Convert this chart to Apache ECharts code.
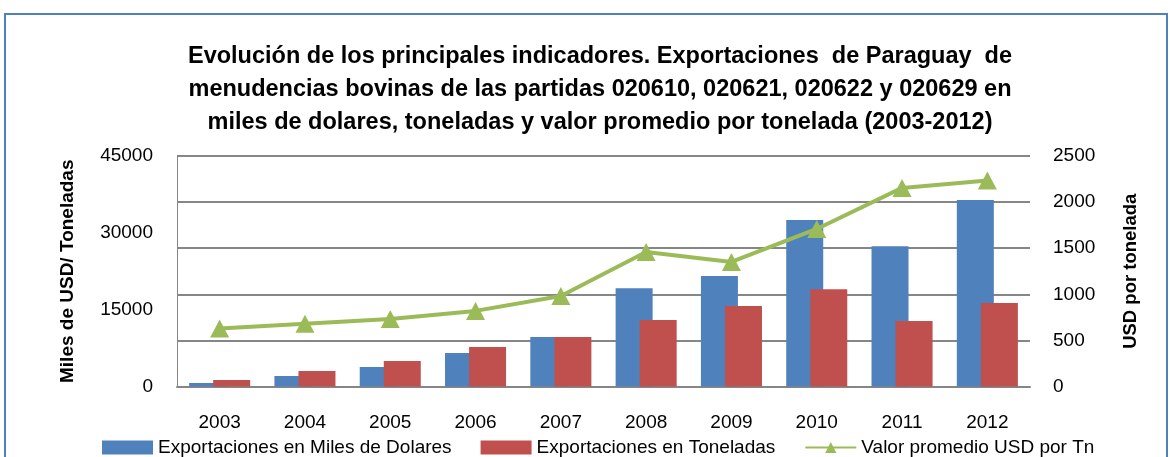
<!DOCTYPE html>
<html>
<head>
<meta charset="utf-8">
<script src="https://cdn.jsdelivr.net/npm/echarts@6/dist/echarts.min.js"></script>
<style>
  html, body { margin: 0; padding: 0; background: #fff; }
  #frame { position: absolute; left: 4px; top: 13px; width: 1160px; height: 460px; border: 2px solid #4f81bd; }
  #chart { position: absolute; left: 0; top: 0; width: 1170px; height: 457px; }
</style>
</head>
<body>
<div id="frame"></div>
<div id="chart"></div>
<script>
// datos
const years = ['2003', '2004', '2005', '2006', '2007', '2008', '2009', '2010', '2011', '2012']
const milesUsd = [700, 2050, 3800, 6550, 9650, 19200, 21550, 32500, 27400, 36400]
const toneladas = [1270, 3030, 4980, 7700, 9650, 12980, 15700, 19000, 12800, 16300]
const valorPromedio = [630, 680, 732, 820, 982, 1459, 1351, 1709, 2154, 2233]

const fontFam = "'Liberation Sans', sans-serif"

const chart = echarts.init(document.getElementById('chart'))

const option = {
  animation: false,
  textStyle: { fontFamily: fontFam },
  title: {
    text: 'Evolución de los principales indicadores. Exportaciones  de Paraguay  de\nmenudencias bovinas de las partidas 020610, 020621, 020622 y 020629 en\nmiles de dolares, toneladas y valor promedio por tonelada (2003-2012)',
    left: 595,
    textAlign: 'center',
    top: 35,
    textStyle: { fontFamily: fontFam, fontSize: 23.5, fontWeight: 'bold', color: '#000', lineHeight: 33 }
  },
  legend: {
    left: 97,
    top: 433,
    itemWidth: 51,
    itemHeight: 14,
    itemGap: 29,
    textStyle: { fontFamily: fontFam, fontSize: 19, color: '#000' },
    data: [
      { name: 'Exportaciones en Miles de Dolares', icon: 'rect' },
      { name: 'Exportaciones en Toneladas', icon: 'rect' },
      'Valor promedio USD por Tn'
    ]
  },
  grid: { left: 177, right: 140, top: 156, bottom: 70.5 },
  xAxis: {
    type: 'category',
    data: years,
    axisLine: { lineStyle: { color: '#868686', width: 2 } },
    axisTick: { show: false },
    axisLabel: { margin: 27, fontSize: 19, color: '#000', fontFamily: fontFam }
  },
  yAxis: [
    {
      type: 'value',
      min: 0,
      max: 45000,
      interval: 15000,
      name: 'Miles de USD/ Toneladas',
      nameLocation: 'middle',
      nameGap: 100,
      nameTextStyle: { fontFamily: fontFam, fontSize: 19, fontWeight: 'bold', color: '#000' },
      axisLine: { show: true, lineStyle: { color: '#868686', width: 1 } },
      axisTick: { show: false },
      splitLine: { show: false },
      axisLabel: { margin: 24, fontSize: 19, color: '#000', fontFamily: fontFam, formatter: v => String(v) }
    },
    {
      type: 'value',
      min: 0,
      max: 2500,
      interval: 500,
      name: 'USD por tonelada',
      nameLocation: 'middle',
      nameGap: 91,
      nameTextStyle: { fontFamily: fontFam, fontSize: 18.5, fontWeight: 'bold', color: '#000' },
      axisLine: { show: false },
      axisTick: { show: false },
      splitLine: { show: true, lineStyle: { color: '#868686', width: 2 } },
      axisLabel: { margin: 23, fontSize: 19, color: '#000', fontFamily: fontFam, formatter: v => String(v) }
    }
  ],
  series: [
    {
      name: 'Exportaciones en Miles de Dolares',
      type: 'bar',
      yAxisIndex: 0,
      data: milesUsd,
      barWidth: 37,
      barGap: '-35%',
      itemStyle: { color: '#4f81bd' }
    },
    {
      name: 'Exportaciones en Toneladas',
      type: 'bar',
      yAxisIndex: 0,
      data: toneladas,
      barWidth: 37,
      barGap: '-35%',
      itemStyle: { color: '#c0504d' }
    },
    {
      name: 'Valor promedio USD por Tn',
      type: 'line',
      yAxisIndex: 1,
      data: valorPromedio,
      symbol: 'triangle',
      symbolSize: [19, 18],
      lineStyle: { color: '#9bbb59', width: 4 },
      itemStyle: { color: '#9bbb59' }
    }
  ]
}

chart.setOption(option)
</script>
</body>
</html>
